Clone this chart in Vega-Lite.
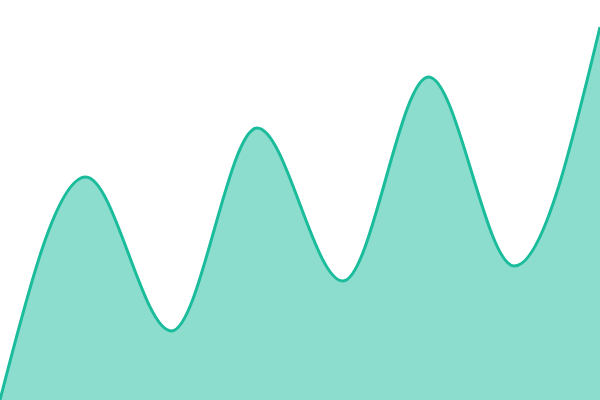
{
  "$schema": "https://vega.github.io/schema/vega-lite/v6.json",
  "width": 600,
  "height": 400,
  "autosize": {"type": "none"},
  "padding": 0,
  "config": {"view": {"stroke": null}},
  "data": {"values": [
    {"x": 0, "v": 0},
    {"x": 1, "v": 223},
    {"x": 2, "v": 69},
    {"x": 3, "v": 272},
    {"x": 4, "v": 119},
    {"x": 5, "v": 323},
    {"x": 6, "v": 134},
    {"x": 7, "v": 373}
  ]},
  "encoding": {
    "x": {"field": "x", "type": "quantitative", "scale": {"domain": [0, 7], "nice": false, "zero": false}, "axis": null},
    "y": {"field": "v", "type": "quantitative", "scale": {"domain": [0, 400], "nice": false}, "axis": null}
  },
  "layer": [
    {"mark": {"type": "area", "interpolate": "monotone", "color": "#1abc9c", "opacity": 0.5}},
    {"mark": {"type": "line", "interpolate": "monotone", "color": "#1abc9c", "strokeWidth": 3}}
  ]
}
